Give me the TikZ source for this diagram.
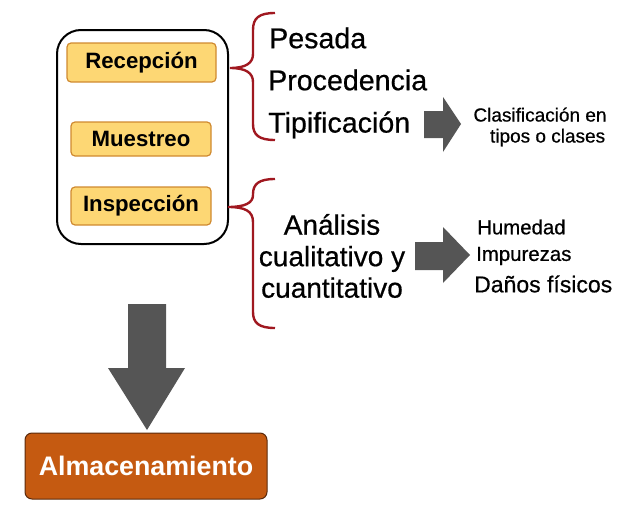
\documentclass[tikz,border=0pt]{standalone}
\usepackage{fontspec}
\setmainfont{Liberation Sans}
\newfontface\heavy{Liberation Sans}[FakeBold=0.6]
\definecolor{boxfill}{HTML}{FDD774}
\definecolor{boxline}{HTML}{D08A30}
\definecolor{bracered}{HTML}{A01820}
\definecolor{arrowgray}{HTML}{555555}
\definecolor{almfill}{HTML}{C55A11}
\definecolor{almline}{HTML}{5A2A0C}
\begin{document}
\begin{tikzpicture}[x=1pt,y=-1pt,
  stagebox/.style={draw=boxline,line width=1.2pt,fill=boxfill,rounded corners=4pt,font=\bfseries\fontsize{22.2}{26}\selectfont},
  bigtxt/.style={font=\heavy\fontsize{28.6}{31}\selectfont,anchor=west,inner sep=0pt},
  smalltxt/.style={font=\heavy\fontsize{20.4}{24}\selectfont,anchor=west,inner sep=0pt},
  bracestyle/.style={draw=bracered,line width=2.4pt},
  fatarrow/.style={fill=arrowgray,draw=none}]
\useasboundingbox (0,0) rectangle (638,522);
% outer box
\node[draw=black,line width=2pt,rounded corners=24pt,minimum width=171pt,minimum height=214pt] (outer) at (142.5,137) {};
% stage boxes
\node[stagebox,minimum width=149pt,minimum height=39pt] (recep) at (141.5,62.5) {Recepción};
\node[stagebox,minimum width=140pt,minimum height=34pt] (muest) at (141,139) {Muestreo};
\node[stagebox,minimum width=140pt,minimum height=38pt] (insp) at (141,206) {Inspección};
% braces
\draw[bracestyle] (275,13) .. controls (259,13) and (253,18) .. (253,30) -- (253,54)
  .. controls (253,63) and (246,68) .. (230,68)
  .. controls (246,68) and (253,73) .. (253,82) -- (253,124)
  .. controls (253,135) and (259,140) .. (275,140);
\draw[bracestyle] (275,179) .. controls (259,179) and (253,184) .. (253,194) -- (253,195)
  .. controls (253,203) and (245,207) .. (228,207)
  .. controls (245,207) and (253,211) .. (253,222) -- (253,312)
  .. controls (253,323) and (259,328) .. (275,328);
% upper texts
\node[bigtxt] (pesada) at (269,38) {Pesada};
\node[bigtxt] (proc) at (268,80) {Procedencia};
\node[bigtxt] (tipif) at (268,125) {Tipificación};
% upper arrow
\fill[fatarrow] (424,111) -- (443,111) -- (443,97) -- (461,124) -- (443,152) -- (443,138) -- (424,138) -- cycle;
\node[font=\heavy\fontsize{19}{21}\selectfont,align=center,inner sep=0pt] (clasif) at (540,127) {Clasificación en\\\hspace*{0.8em}tipos o clases};
% lower texts
\node[font=\heavy\fontsize{28}{31.5}\selectfont,align=center,inner sep=0pt] (anal) at (332,256) {Análisis\\cualitativo y\\cuantitativo};
% lower arrow
\fill[fatarrow] (415,242) -- (443,242) -- (443,227) -- (470,255) -- (443,283) -- (443,270) -- (415,270) -- cycle;
\node[smalltxt] (hum) at (477,227) {Humedad};
\node[smalltxt] (imp) at (476,256) {Impurezas};
\node[font=\heavy\fontsize{23}{26}\selectfont,anchor=west,inner sep=0pt] (danos) at (474,284) {Daños físicos};
% down arrow
\fill[fatarrow] (128,304) -- (166,304) -- (166,368) -- (185,368) -- (147,430) -- (108,368) -- (128,368) -- cycle;
% almacenamiento
\node[draw=almline,fill=almfill,line width=1pt,rounded corners=7pt,minimum width=242pt,minimum height=66pt,text=white,font=\bfseries\fontsize{26.8}{30}\selectfont] (alm) at (146,466) {Almacenamiento};
\end{tikzpicture}
\end{document}
